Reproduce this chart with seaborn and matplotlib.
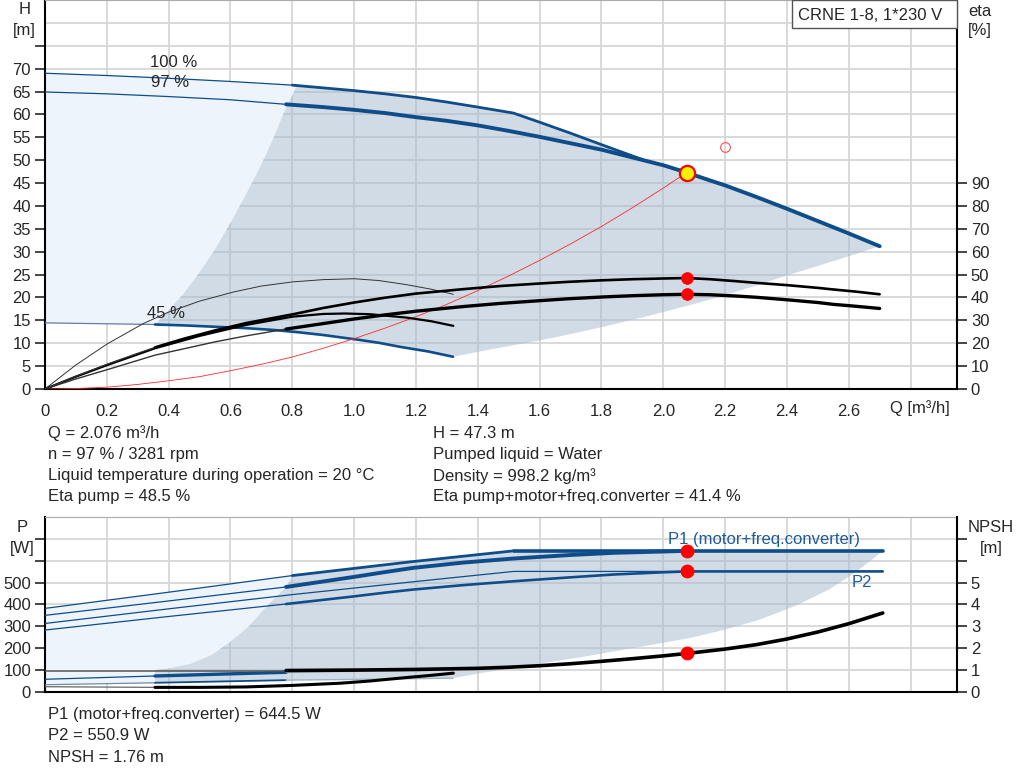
import numpy as np
import matplotlib
matplotlib.use("Agg")
import matplotlib.pyplot as plt
import seaborn as sns
from matplotlib.patches import Rectangle

sns.set_style("white")
plt.rcParams["font.family"] = ["Liberation Sans", "DejaVu Sans"]
plt.rcParams["font.size"] = 12

BLUE = "#0f4d8a"
LIGHT = "#edf4fc"
GRID = "#d7d7d7"

# ---------------- top panel: head H [m] over flow Q [m3/h]
q100_thin = [0, 0.2, 0.4, 0.6, 0.8]
h100_thin = [69.0, 68.5, 67.9, 67.2, 66.4]
q100 = [0.8, 0.9, 1.0, 1.1, 1.2, 1.3, 1.4, 1.515, 1.6, 1.7, 1.8, 1.93]
h100 = [66.4, 65.8, 65.2, 64.5, 63.7, 62.7, 61.6, 60.3, 58.3, 55.9, 53.4, 50.2]
q97_thin = [0, 0.2, 0.4, 0.6, 0.78]
h97_thin = [64.9, 64.5, 63.9, 63.2, 62.2]
q97 = [0.78, 0.9, 1.0, 1.1, 1.2, 1.3, 1.4, 1.5, 1.6, 1.7, 1.8, 1.9, 2.0, 2.076,
       2.15, 2.2, 2.3, 2.4, 2.5, 2.6, 2.7]
h97 = [62.2, 61.6, 61.0, 60.3, 59.4, 58.6, 57.6, 56.4, 55.1, 53.7, 52.3, 50.6, 48.9, 47.3,
       45.6, 44.5, 42.0, 39.4, 36.7, 34.0, 31.2]
q45_thin = [0, 0.356]
h45_thin = [14.45, 14.1]
q45 = [0.356, 0.45, 0.55, 0.65, 0.74, 0.82, 0.9, 1.01, 1.08, 1.15, 1.24, 1.32]
h45 = [14.1, 13.9, 13.6, 13.3, 12.9, 12.4, 11.8, 10.8, 10.1, 9.2, 8.2, 7.05]
# borders of the operating area
q_min_edge = [0.356, 0.40, 0.448, 0.5, 0.55, 0.61, 0.65, 0.696, 0.735, 0.771, 0.815]
h_min_edge = [14.1, 17.2, 20.8, 25.5, 30.5, 37.5, 42.5, 48.5, 54.2, 60.1, 66.3]
q_max_edge = [1.32, 1.4, 1.47, 1.6, 1.7, 1.8, 1.9, 2.0, 2.1, 2.2, 2.3, 2.4, 2.5, 2.6, 2.7]
h_max_edge = [7.05, 8.1, 9.0, 10.6, 12.0, 13.5, 15.1, 16.8, 18.6, 20.5, 22.6, 24.8, 26.9, 29.0, 31.2]
# system curve
q_sys = [0, 0.1, 0.2, 0.3, 0.4, 0.5, 0.6, 0.7, 0.8, 0.9, 1.0, 1.1, 1.2, 1.3, 1.4, 1.5,
         1.6, 1.7, 1.8, 1.9, 2.0, 2.076]
h_sys = [0, 0.1, 0.4, 1.0, 1.8, 2.7, 4.0, 5.4, 7.0, 8.9, 11.0, 13.3, 15.8, 18.5, 21.5, 24.7,
         28.1, 31.7, 35.5, 39.6, 43.9, 47.3]

# efficiencies eta [%]
q_eta_p97 = [0, 0.1, 0.2, 0.3, 0.356, 0.45, 0.55, 0.65, 0.8, 0.9, 1.0, 1.1, 1.2, 1.35, 1.472,
             1.6, 1.688, 1.8, 1.904, 2.0, 2.076, 2.15, 2.228, 2.3, 2.4, 2.5, 2.55, 2.62, 2.7]
eta_p97 = [0, 5.6, 10.8, 15.6, 18.2, 22.0, 25.6, 28.8, 32.6, 35.4, 37.8, 39.9, 41.7, 43.6, 45.0,
           46.1, 46.8, 47.5, 48.0, 48.3, 48.5, 48.0, 47.2, 46.4, 45.4, 44.2, 43.5, 42.6, 41.4]
q_eta_t97 = [0, 0.1, 0.2, 0.356, 0.45, 0.55, 0.65, 0.78, 0.9, 1.0, 1.1, 1.2, 1.35, 1.472,
             1.6, 1.688, 1.8, 1.904, 2.0, 2.076, 2.15, 2.228, 2.3, 2.4, 2.5, 2.55, 2.62, 2.7]
eta_t97 = [0, 4.4, 8.4, 14.8, 17.6, 20.6, 23.2, 26.2, 28.6, 30.6, 32.4, 34.0, 36.0, 37.4,
           38.6, 39.4, 40.2, 40.8, 41.2, 41.4, 41.2, 40.7, 40.1, 39.0, 37.8, 37.0, 36.2, 35.2]
q_eta_p45 = [0, 0.1, 0.2, 0.318, 0.4, 0.5, 0.61, 0.7, 0.8, 0.9, 1.0, 1.08, 1.17, 1.25, 1.321]
eta_p45 = [0, 10.5, 19.6, 28.6, 33.6, 38.4, 42.4, 45.0, 46.8, 47.8, 48.2, 47.4, 45.6, 43.6, 41.4]
q_eta_t45 = [0, 0.1, 0.2, 0.356, 0.5, 0.65, 0.8, 0.9, 0.97, 1.05, 1.17, 1.25, 1.321]
eta_t45 = [0, 5.4, 10.4, 17.8, 23.2, 28.0, 31.6, 32.8, 33.0, 32.7, 31.2, 29.6, 27.6]

# ---------------- bottom panel: power P [W], NPSH [m]
q_p1_100_thin = [0, 0.4, 0.8]
p1_100_thin = [382, 456, 532]
q_p1_100 = [0.8, 1.19, 1.516]
p1_100 = [532, 596, 645]
q_p1_lim = [1.516, 2.076, 2.71]
p1_lim = [645, 645, 645]
q_p1_97_thin = [0, 0.4, 0.78]
p1_97_thin = [350, 416, 480]
q_p1_97 = [0.78, 0.9, 1.0, 1.1, 1.19, 1.35, 1.516, 1.7, 1.84, 2.0, 2.076]
p1_97 = [480, 505, 526, 548, 567, 591, 610, 626, 636, 642, 645]
q_p2_100 = [0, 0.4, 0.8, 1.2, 1.516, 2.076]
p2_100 = [313, 380, 445, 505, 551, 551]
q_p2_97_thin = [0, 0.4, 0.78]
p2_97_thin = [283, 345, 402]
q_p2_97 = [0.78, 0.9, 1.0, 1.1, 1.19, 1.35, 1.516, 1.7, 1.84, 2.0, 2.076, 2.71]
p2_97 = [402, 421, 437, 454, 468, 488, 506, 524, 537, 547, 551, 551]
q_p1_45 = [0, 0.356, 0.78, 1.32]
p1_45 = [58, 73, 90, 100]
q_p2_45 = [0, 0.356, 0.78, 1.32]
p2_45 = [33, 42, 54, 63]
q_pmin_edge = [0.356, 0.356, 0.40, 0.47, 0.54, 0.6, 0.66, 0.717, 0.782, 0.8]
p_min_edge = [42, 100, 108, 128, 170, 230, 300, 391, 483, 532]
q_pmax_edge = [1.32, 1.408, 1.55, 1.746, 1.9, 2.085, 2.2, 2.311, 2.43, 2.536, 2.62, 2.68, 2.71]
p_max_edge = [63, 86, 118, 162, 200, 246, 285, 330, 395, 468, 545, 610, 645]
q_npsh97_thin = [0, 0.78]
npsh97_thin = [0.98, 0.98]
q_npsh97 = [0.78, 1.0, 1.2, 1.4, 1.5, 1.6, 1.7, 1.8, 1.9, 2.0, 2.076, 2.2, 2.3, 2.4, 2.5,
            2.6, 2.71]
npsh97 = [0.98, 1.0, 1.03, 1.08, 1.13, 1.2, 1.29, 1.4, 1.52, 1.65, 1.76, 1.96, 2.16, 2.42,
          2.74, 3.12, 3.61]
q_npsh45 = [0, 0.356, 0.5, 0.65, 0.8, 0.955, 1.05, 1.17, 1.25, 1.321]
npsh45 = [0.24, 0.21, 0.21, 0.23, 0.30, 0.40, 0.50, 0.66, 0.76, 0.86]

Q_OP, H_OP, ETA_P, ETA_T = 2.076, 47.3, 48.5, 41.4
P1_OP, P2_OP, NPSH_OP = 644.5, 550.9, 1.76

info_left = ["Q = 2.076 m³/h", "n = 97 % / 3281 rpm",
             "Liquid temperature during operation = 20 °C", "Eta pump = 48.5 %"]
info_right = ["H = 47.3 m", "Pumped liquid = Water", "Density = 998.2 kg/m³",
              "Eta pump+motor+freq.converter = 41.4 %"]
info_bottom = ["P1 (motor+freq.converter) = 644.5 W", "P2 = 550.9 W", "NPSH = 1.76 m"]
x_ticks = [0, 0.2, 0.4, 0.6, 0.8, 1.0, 1.2, 1.4, 1.6, 1.8, 2.0, 2.2, 2.4, 2.6, 2.8]


def curve(ax, q, v, color, lw, z=3):
    sns.lineplot(x=q, y=v, ax=ax, color=color, linewidth=lw,
                 estimator=None, sort=False, zorder=z)


def style_axes(ax, twin, ylim, yticks, ylabels, tylim, tticks, tlabels, xlabels):
    ax.set_xlim(0, 2.95)
    ax.set_ylim(*ylim)
    for x in x_ticks[1:]:
        ax.axvline(x, color=GRID, lw=1.3, zorder=0)
    for y in np.arange(yticks[1] - yticks[0], ylim[1], yticks[1] - yticks[0]):
        ax.axhline(y, color=GRID, lw=1.3, zorder=0)
    ax.set_yticks(yticks)
    ax.set_yticklabels(ylabels)
    if xlabels:
        ax.set_xticks(x_ticks)
        ax.set_xticklabels(["0"] + [f"{v:.1f}" for v in x_ticks[1:-1]] + [""])
        ax.tick_params(axis="x", direction="out", length=7, width=1.2, pad=4)
    else:
        ax.set_xticks([])
    ax.tick_params(axis="y", direction="out", length=7, width=1.2, pad=3, left=True)
    for s in ["left", "bottom"]:
        ax.spines[s].set_color("black")
        ax.spines[s].set_linewidth(1.5)
    ax.spines["top"].set_color("#aaaaaa")
    ax.spines["right"].set_visible(False)
    twin.set_ylim(*tylim)
    twin.set_yticks(tticks)
    twin.set_yticklabels(tlabels)
    twin.tick_params(axis="y", direction="out", length=7, width=1.2, pad=3, right=True)
    for s in ["left", "top", "bottom"]:
        twin.spines[s].set_visible(False)
    twin.spines["right"].set_color("black")
    twin.spines["right"].set_linewidth(1.5)
    ax.set_xlabel("")
    ax.set_ylabel("")
    twin.set_ylabel("")


fig = plt.figure(figsize=(10.24, 7.81), dpi=100)
ax = fig.add_axes([0.0439, 0.5019, 0.8906, 0.4981])
ax_eta = ax.twinx()

# operating area
ax.fill(np.concatenate([q45_thin, q_min_edge, q100_thin[::-1]]),
        np.concatenate([h45_thin, h_min_edge, h100_thin[::-1]]),
        color=LIGHT, lw=0, zorder=1)
top_q = q100[1:] + [q for q in q97 if q > q100[-1]]
top_h = h100[1:] + [h for q, h in zip(q97, h97) if q > q100[-1]]
ax.fill(np.concatenate([q_min_edge, top_q, q_max_edge[::-1], q45[::-1]]),
        np.concatenate([h_min_edge, top_h, h_max_edge[::-1], h45[::-1]]),
        color="#a3b9ce", alpha=0.5, lw=0, zorder=1)

curve(ax, q100_thin, h100_thin, BLUE, 0.9)
curve(ax, q100, h100, BLUE, 2.0)
curve(ax, q97_thin, h97_thin, BLUE, 0.9)
curve(ax, q97, h97, BLUE, 2.8)
curve(ax, q45_thin, h45_thin, "#5f7fa5", 0.9)
curve(ax, q45, h45, BLUE, 1.9)
curve(ax, q_sys, h_sys, "#ff2a2a", 0.6, z=4)
ax.plot([2.2], [52.8], "o", ms=7, mfc="none", mec="#ff5050", mew=0.8, zorder=6)
sns.scatterplot(x=[Q_OP], y=[H_OP], ax=ax, s=120, color="#f7f000",
                edgecolor="#ff0000", linewidth=1.6, zorder=7)

curve(ax_eta, q_eta_p45, eta_p45, "#333333", 0.7)
curve(ax_eta, q_eta_t45, eta_t45, "black", 1.6)
curve(ax_eta, q_eta_p97[:5], eta_p97[:5], "#333333", 0.9)
curve(ax_eta, q_eta_p97[4:], eta_p97[4:], "black", 1.9)
curve(ax_eta, q_eta_t97[:8], eta_t97[:8], "#333333", 1.0)
curve(ax_eta, q_eta_t97[7:], eta_t97[7:], "black", 2.4)
sns.scatterplot(x=[Q_OP, Q_OP], y=[ETA_P, ETA_T], ax=ax_eta, s=70,
                color="#ff0000", edgecolor="#ff0000", zorder=7)

style_axes(ax, ax_eta, (0, 85), list(range(0, 80, 5)),
           [str(v) for v in range(0, 75, 5)] + [""],
           (0, 170), list(range(0, 100, 10)), [str(v) for v in range(0, 100, 10)], True)
ax.text(2.83, -0.049, "Q [m³/h]", transform=ax.get_xaxis_transform(),
        ha="center", va="center")
ax.text(0.415, 71.3, "100 %", ha="center", va="center", zorder=8)
ax.text(0.405, 66.9, "97 %", ha="center", va="center", zorder=8)
ax.text(0.39, 16.6, "45 %", ha="center", va="center", zorder=8)

# ---------------- bottom panel
axp = fig.add_axes([0.0439, 0.1140, 0.8906, 0.2241])
ax_npsh = axp.twinx()

axp.fill(np.concatenate([q_p2_45[:2], q_pmin_edge[1:], q_p1_100_thin[::-1]]),
         np.concatenate([p2_45[:2], p_min_edge[1:], p1_100_thin[::-1]]),
         color=LIGHT, lw=0, zorder=1)
ptop_q = q_p1_100[1:] + q_p1_lim[1:]
ptop_p = p1_100[1:] + p1_lim[1:]
axp.fill(np.concatenate([q_pmin_edge, ptop_q, q_pmax_edge[::-1], q_p2_45[::-1][:3]]),
         np.concatenate([p_min_edge, ptop_p, p_max_edge[::-1], p2_45[::-1][:3]]),
         color="#a3b9ce", alpha=0.5, lw=0, zorder=1)

curve(axp, q_p1_100_thin, p1_100_thin, BLUE, 0.9)
curve(axp, q_p1_100, p1_100, BLUE, 2.0)
curve(axp, q_p1_lim, p1_lim, BLUE, 2.6)
curve(axp, q_p1_97_thin, p1_97_thin, BLUE, 0.9)
curve(axp, q_p1_97, p1_97, BLUE, 2.8)
curve(axp, q_p2_100, p2_100, BLUE, 0.9)
curve(axp, q_p2_97_thin, p2_97_thin, BLUE, 0.9)
curve(axp, q_p2_97, p2_97, BLUE, 1.9)
curve(axp, q_p1_45[:2], p1_45[:2], BLUE, 0.9)
curve(axp, q_p1_45[1:3], p1_45[1:3], BLUE, 2.4)
curve(axp, q_p1_45[2:], p1_45[2:], "#9db3ca", 1.0)
curve(axp, q_p2_45[:2], p2_45[:2], "#6f8bab", 0.9)
curve(axp, q_p2_45[1:3], p2_45[1:3], BLUE, 1.3)
curve(axp, q_p2_45[2:], p2_45[2:], "#9db3ca", 1.0)
sns.scatterplot(x=[Q_OP, Q_OP], y=[P1_OP, P2_OP], ax=axp, s=85,
                color="#ff0000", edgecolor="#ff0000", zorder=7)

curve(ax_npsh, q_npsh97_thin, npsh97_thin, "#555555", 1.1)
curve(ax_npsh, q_npsh97, npsh97, "black", 2.6)
curve(ax_npsh, q_npsh45[:2], npsh45[:2], "#666666", 0.9)
curve(ax_npsh, q_npsh45[1:], npsh45[1:], "black", 2.2)
sns.scatterplot(x=[Q_OP], y=[NPSH_OP], ax=ax_npsh, s=85,
                color="#ff0000", edgecolor="#ff0000", zorder=7)

style_axes(axp, ax_npsh, (0, 800), list(range(0, 800, 100)),
           [str(v) for v in range(0, 600, 100)] + ["", ""],
           (0, 8), list(range(0, 8)), [str(v) for v in range(0, 6)] + ["", ""], False)
axp.text(2.016, 697, "P1 (motor+freq.converter)", color="#1f5b99", ha="left",
         va="center", zorder=8)
axp.text(2.61, 500, "P2", color="#1f5b99", ha="left", va="center", zorder=8)

# ---------------- texts around the axes
fig.text(25 / 1024, 1 - 9 / 781, "H", ha="center", va="center")
fig.text(24 / 1024, 1 - 30 / 781, "[m]", ha="center", va="center")
fig.text(980 / 1024, 1 - 11 / 781, "eta", ha="center", va="center")
fig.text(980 / 1024, 1 - 31 / 781, "[%]", ha="center", va="center")
fig.text(22 / 1024, 1 - 527 / 781, "P", ha="center", va="center")
fig.text(22 / 1024, 1 - 548 / 781, "[W]", ha="center", va="center")
fig.text(991 / 1024, 1 - 527 / 781, "NPSH", ha="center", va="center")
fig.text(991 / 1024, 1 - 548 / 781, "[m]", ha="center", va="center")

fig.add_artist(Rectangle((792 / 1024, 1 - 28 / 781), 165 / 1024, 28 / 781,
                         transform=fig.transFigure, facecolor="white",
                         edgecolor="#555555", lw=1, zorder=10))
fig.text(798 / 1024, 1 - 15 / 781, "CRNE 1-8, 1*230 V", ha="left", va="center", zorder=11)

for i, s in enumerate(info_left):
    fig.text(48 / 1024, 1 - (433 + 21.3 * i) / 781, s, ha="left", va="center")
for i, s in enumerate(info_right):
    fig.text(433 / 1024, 1 - (433 + 21.3 * i) / 781, s, ha="left", va="center")
for i, s in enumerate(info_bottom):
    fig.text(48 / 1024, 1 - (714 + 21.5 * i) / 781, s, ha="left", va="center")

fig.savefig("out.png", dpi=100)
